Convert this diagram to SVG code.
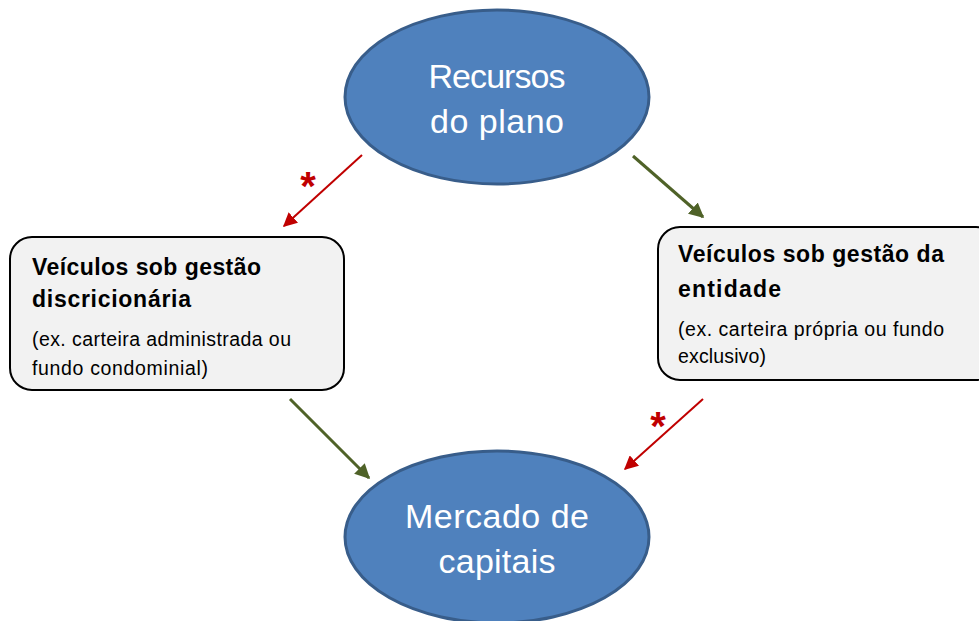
<svg xmlns="http://www.w3.org/2000/svg" width="979" height="621" viewBox="0 0 979 621">
<style>
.ell{fill:#4f81bd;stroke:#385d8a;stroke-width:3}
.box{fill:#f2f2f2;stroke:#000;stroke-width:2}
.big{font-family:"Liberation Sans",Arial,sans-serif;font-size:34px;fill:#fff;text-anchor:middle}
.hd{font-family:"Liberation Sans",Arial,sans-serif;font-size:23px;font-weight:bold;fill:#000}
.sm{font-family:"Liberation Sans",Arial,sans-serif;font-size:19.5px;fill:#000}
.star{font-family:"Liberation Sans",Arial,sans-serif;font-size:40px;font-weight:bold;fill:#c00000;text-anchor:middle}
.g{stroke:#4f6228;stroke-width:3;fill:none}
.r{stroke:#c00000;stroke-width:2;fill:none}
</style>
<defs>
<marker id="ag" viewBox="0 0 10 10" refX="9" refY="5" markerWidth="5" markerHeight="5" orient="auto" markerUnits="strokeWidth"><path d="M0,0L10,5L0,10z" fill="#4f6228"/></marker>
<marker id="ar" viewBox="0 0 10 10" refX="9" refY="5" markerWidth="7" markerHeight="7" orient="auto" markerUnits="strokeWidth"><path d="M0,0L10,5L0,10z" fill="#c00000"/></marker>
</defs>
<rect width="979" height="621" fill="#fff"/>
<g id="recursos">
<ellipse class="ell" cx="497" cy="97" rx="152" ry="87"/>
<text class="big" x="497" y="88" textLength="137">Recursos</text>
<text class="big" x="497" y="133" textLength="134">do plano</text>
</g>
<g id="mercado">
<ellipse class="ell" cx="497" cy="537" rx="152" ry="86"/>
<text class="big" x="497" y="528" textLength="184">Mercado de</text>
<text class="big" x="497" y="573" textLength="117">capitais</text>
</g>
<g id="discricionaria">
<rect class="box" x="10" y="237" width="334" height="153" rx="22"/>
<text class="hd" x="32" y="275" textLength="229">Veículos sob gestão</text>
<text class="hd" x="32" y="307" textLength="159">discricionária</text>
<text class="sm" x="32" y="346" textLength="259">(ex. carteira administrada ou</text>
<text class="sm" x="32" y="375" textLength="176">fundo condominial)</text>
</g>
<g id="entidade">
<rect class="box" x="658" y="227" width="340" height="153" rx="22"/>
<text class="hd" x="678" y="262" textLength="266">Veículos sob gestão da</text>
<text class="hd" x="678" y="297" textLength="103">entidade</text>
<text class="sm" x="678" y="336" textLength="266">(ex. carteira própria ou fundo</text>
<text class="sm" x="678" y="363" textLength="88">exclusivo)</text>
</g>
<g id="connectors">
<line class="r" x1="362" y1="155" x2="284" y2="226" marker-end="url(#ar)"/>
<text class="star" x="308" y="200">*</text>
<line class="g" x1="633" y1="156" x2="703" y2="217" marker-end="url(#ag)"/>
<line class="g" x1="290" y1="399" x2="369" y2="478" marker-end="url(#ag)"/>
<line class="r" x1="703" y1="399" x2="625" y2="469" marker-end="url(#ar)"/>
<text class="star" x="658" y="440">*</text>
</g>
</svg>
